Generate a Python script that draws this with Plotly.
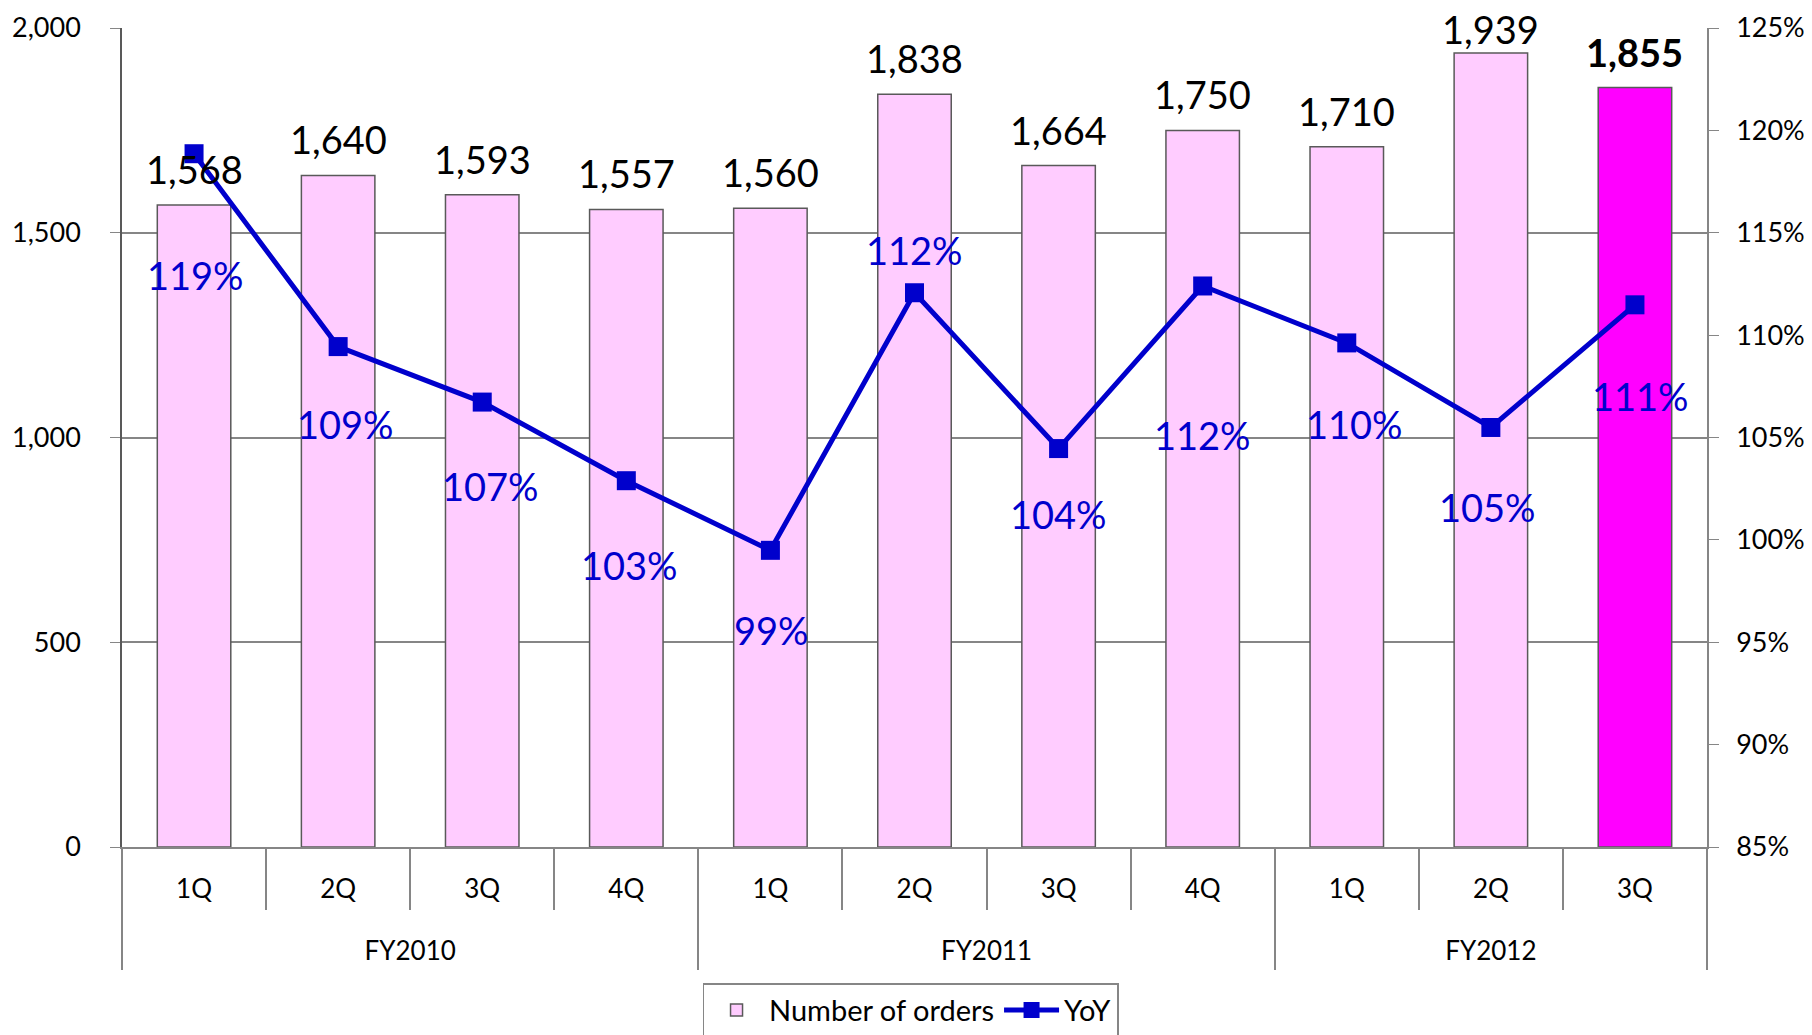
import plotly.graph_objects as go

fiscal_years = ["FY2010"] * 4 + ["FY2011"] * 4 + ["FY2012"] * 3
quarters = ["1Q", "2Q", "3Q", "4Q", "1Q", "2Q", "3Q", "4Q", "1Q", "2Q", "3Q"]
orders = [1568, 1640, 1593, 1557, 1560, 1838, 1664, 1750, 1710, 1939, 1855]
yoy = [118.86, 109.44, 106.73, 102.89, 99.49, 112.07, 104.46, 112.40, 109.62, 105.49, 111.48]

# label placement offsets (px) — styling only
bar_label_shift = [36, 36, 36, 36, 36, 36, 36, 36, 36, 24, 35]
pct_label_yshift = [-121, -77, -84, -84, -80, 43, -65, -149, -81, -80, -91]
pct_label_xshift = [1, 7, 8, 3, 1, 0, 0, 0, 8, -3, 6]

FONT = "Lato, 'Open Sans', sans-serif"
GRID = "#868686"
n = len(quarters)
pos = list(range(n))  # category index positions

# fiscal-year groups derived from the category list
groups = []
for i, fy in enumerate(fiscal_years):
    if not groups or groups[-1][0] != fy:
        groups.append([fy, i, i])
    else:
        groups[-1][2] = i
group_names = [g[0] for g in groups]
group_centers = [(g[1] + g[2]) / 2 for g in groups]
group_bounds = [groups[0][1] - 0.5] + [g[2] + 0.5 for g in groups]
quarter_bounds = [i - 0.5 for i in range(n + 1)]

bar_colors = ["#FFCCFF"] * (n - 1) + ["#FF00FF"]

fig = go.Figure()
fig.add_trace(go.Bar(
    x=pos, y=orders, name="Number of orders",
    marker=dict(color=bar_colors, line=dict(color="#595959", width=1.5)),
    xaxis="x", yaxis="y", hoverinfo="y",
))
fig.add_trace(go.Scatter(
    x=pos, y=yoy, name="YoY", mode="lines+markers",
    line=dict(color="#0000CC", width=5),
    marker=dict(symbol="square", size=19, color="#0000CC"),
    xaxis="x2", yaxis="y2",
))

annotations = []
for i, v in enumerate(orders):
    last = i == n - 1
    annotations.append(dict(
        x=pos[i], y=v, xref="x", yref="y", text=f"{v:,}", showarrow=False,
        yanchor="middle", yshift=bar_label_shift[i], borderpad=0,
        font=dict(family=FONT, size=38, color="black",
                  weight="bold" if last else "normal"),
    ))
for i, v in enumerate(yoy):
    annotations.append(dict(
        x=pos[i], y=v, xref="x2", yref="y2", text=f"{round(v)}%", showarrow=False,
        yanchor="middle", yshift=pct_label_yshift[i], xshift=pct_label_xshift[i],
        font=dict(family=FONT, size=38, color="#0000CC"),
    ))

fig.update_layout(
    width=1804, height=1027,
    margin=dict(l=114, r=105, t=20, b=188),
    paper_bgcolor="white", plot_bgcolor="white",
    font=dict(family=FONT, size=27, color="black"),
    bargap=0.49,
    showlegend=True,
    legend=dict(orientation="h", x=0.4975, xref="paper", xanchor="center",
                y=0.0506, yref="container", yanchor="top",
                bordercolor=GRID, borderwidth=1.5, font=dict(size=29),
                bgcolor="white", itemwidth=55),
    xaxis=dict(
        type="linear", range=[-0.5, n - 0.5], autorange=False,
        tickmode="array", tickvals=pos, ticktext=quarters,
        showline=True, linecolor=GRID, linewidth=1.5,
        ticks="", ticklabelstandoff=18,
        minor=dict(tickmode="array", tickvals=quarter_bounds, ticks="outside",
                   ticklen=61, tickcolor=GRID, tickwidth=1.5, showgrid=False),
        tickfont=dict(size=26, family=FONT),
        showgrid=False, zeroline=False, automargin=False,
    ),
    xaxis2=dict(
        type="linear", overlaying="x", anchor="y", side="bottom",
        range=[-0.5, n - 0.5], autorange=False,
        tickmode="array", tickvals=group_centers, ticktext=group_names,
        ticks="", ticklabelstandoff=86,
        minor=dict(tickmode="array", tickvals=group_bounds, ticks="outside",
                   ticklen=122, tickcolor=GRID, tickwidth=1.5, showgrid=False),
        tickfont=dict(size=26, family=FONT),
        showgrid=False, zeroline=False, showline=False, automargin=False,
    ),
    yaxis=dict(
        range=[0, 2000], dtick=500, tickformat=",", showgrid=True, gridcolor=GRID,
        gridwidth=1.5, showline=True, linecolor="#595959", linewidth=1.5,
        ticks="outside", ticklen=10, tickcolor=GRID, zeroline=False,
        tickfont=dict(size=27, family=FONT), ticklabelstandoff=24, automargin=False,
    ),
    yaxis2=dict(
        range=[85, 125], dtick=5, ticksuffix="%", overlaying="y", side="right",
        anchor="x",
        showgrid=False, showline=True, linecolor=GRID, linewidth=1.5,
        ticks="outside", ticklen=10, tickcolor=GRID, zeroline=False,
        tickfont=dict(size=27, family=FONT), ticklabelstandoff=12, automargin=False,
    ),
    annotations=annotations,
)

fig.write_html("out.html")
